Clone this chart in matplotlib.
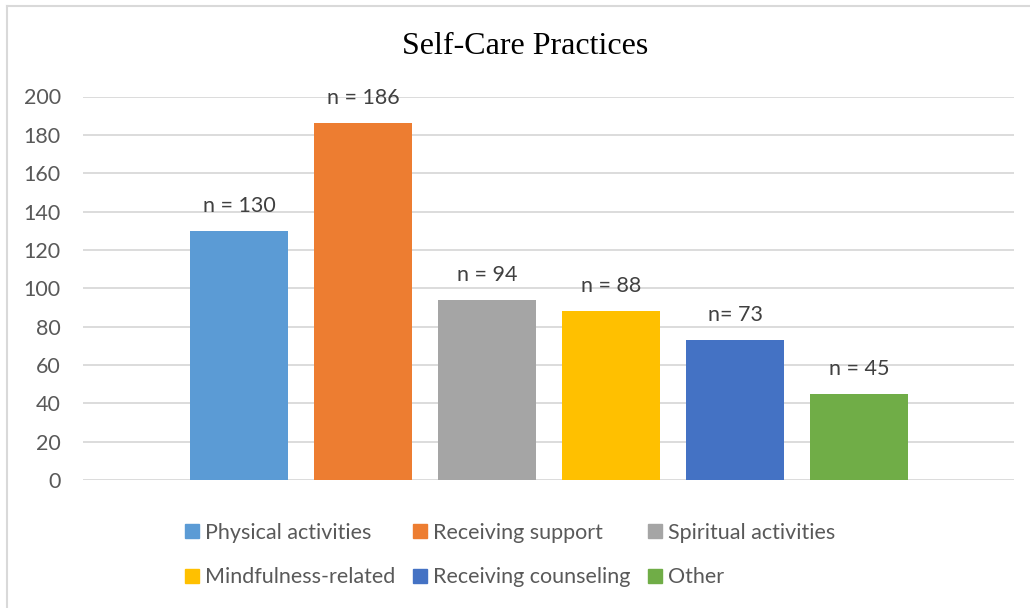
import numpy as np
import matplotlib
matplotlib.use("Agg")
import matplotlib.pyplot as plt
from matplotlib.lines import Line2D

# data
categories = ["Physical activities", "Receiving support", "Spiritual activities",
              "Mindfulness-related", "Receiving counseling", "Other"]
counts = [130, 186, 94, 88, 73, 45]
bar_labels = ["n = 130", "n = 186", "n = 94", "n = 88", "n= 73", "n = 45"]
colors = ["#5B9BD5", "#ED7D31", "#A5A5A5", "#FFC000", "#4472C4", "#70AD47"]
yticks = np.arange(0, 201, 20)

plt.rcParams["font.family"] = ["Lato", "DejaVu Sans"]

W, H = 1030, 608
fig = plt.figure(figsize=(W / 100, H / 100), dpi=100)
ax = fig.add_axes([83 / W, 1 - 480 / H, (1014 - 83) / W, (480 - 96.5) / H])

x = np.arange(len(counts))
bars = ax.bar(x, counts, width=98 / 124, color=colors, zorder=3)

for xi, v, lab in zip(x, counts, bar_labels):
    ax.annotate(lab, (xi, v), xytext=(0, 18), textcoords="offset points",
                ha="center", va="center", fontsize=15.5, color="#404040")

ax.set_xlim(-(239 - 83) / 124, 5 + (1014 - 859) / 124)
ax.set_ylim(0, 200)
ax.set_yticks(yticks)
ax.set_xticks([])
ax.tick_params(axis="y", length=0, pad=16, labelsize=15.5, labelcolor="#595959")
ax.grid(axis="y", color="#d9d9d9", linewidth=1.3, zorder=0)
for s in ax.spines.values():
    s.set_visible(False)

fig.text(525 / W, 1 - 46 / H, "Self-Care Practices", ha="center", va="center",
         fontsize=23, family="Liberation Serif", color="black")

# legend fills column by column, so reorder to get Excel's row-wise layout
ncol = 3
order = [r * ncol + c for c in range(ncol) for r in range(2)]
handles = [plt.Rectangle((0, 0), 1, 1, color=colors[i]) for i in order]
labels = [categories[i] for i in order]
fig.legend(handles, labels, ncol=ncol, loc="center",
           bbox_to_anchor=(510 / W, 1 - 555 / H), frameon=False,
           fontsize=15.5, labelcolor="#595959", handlelength=0.65,
           handleheight=0.65, handletextpad=0.3, columnspacing=0.8,
           labelspacing=1.15)

# chart border (only top and left visible in the crop)
fig.add_artist(Line2D([7 / W, 7 / W], [0, 1 - 6 / H], color="#d9d9d9", linewidth=1.5))
fig.add_artist(Line2D([7 / W, 1], [1 - 6 / H, 1 - 6 / H], color="#d9d9d9", linewidth=1.5))

fig.savefig("out.png", dpi=100)
